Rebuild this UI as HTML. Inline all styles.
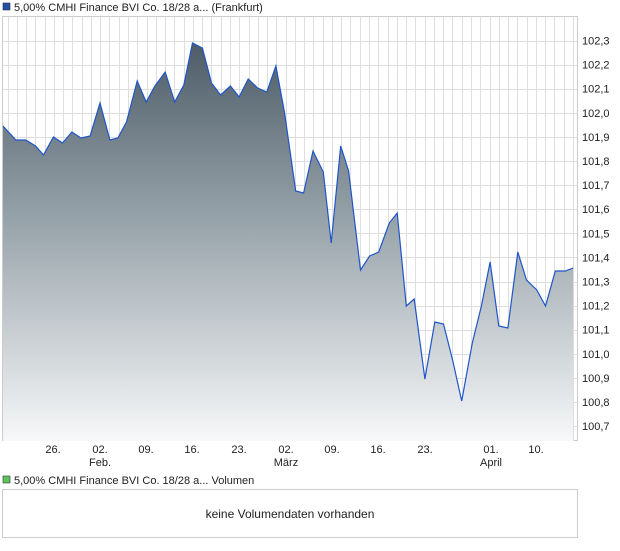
<!DOCTYPE html>
<html><head><meta charset="utf-8"><style>
body{margin:0;background:#fff;width:620px;height:546px;overflow:hidden;font-family:"Liberation Sans",sans-serif;}
svg text{font-family:"Liberation Sans",sans-serif;font-size:11px;fill:#222;}
</style></head><body>
<svg width="620" height="546" viewBox="0 0 620 546" xmlns="http://www.w3.org/2000/svg">
<defs>
<linearGradient id="g" gradientUnits="userSpaceOnUse" x1="0" y1="40" x2="0" y2="441">
<stop offset="0" stop-color="#4c5b67"/><stop offset="0.45" stop-color="#97a3aa"/><stop offset="1" stop-color="#f7f8f9"/>
</linearGradient>
</defs>
<rect x="3" y="3" width="7" height="7" fill="#1f4fa8" stroke="#333" stroke-width="0.6"/>
<text x="14" y="11">5,00% CMHI Finance BVI Co. 18/28 a... (Frankfurt)</text>
<rect x="2.5" y="16.5" width="575" height="424" fill="#fff" stroke="#ccc"/>
<g stroke="#dedede" stroke-width="1" id="grid"></g>
<polygon id="area" fill="url(#g)"/>
<polyline id="line" fill="none" stroke="#1f55c8" stroke-width="1.2"/>
<g id="ylab"></g>
<g id="xlab"></g>
<rect x="3" y="476" width="7" height="7" fill="#5ec35e" stroke="#333" stroke-width="0.6"/>
<text x="14" y="484">5,00% CMHI Finance BVI Co. 18/28 a... Volumen</text>
<rect x="2.5" y="489.5" width="575" height="48" fill="#fff" stroke="#ccc"/>
<text x="290" y="518" text-anchor="middle" style="font-size:12px">keine Volumendaten vorhanden</text>
</svg>
<script>
var ns="http://www.w3.org/2000/svg";
var raw=[[20,126],[40,140],[65,140],[90,146],[110,155],[135,137],[158,143],[182,132],[205,138],[228,136],[253,103],[278,140],[298,138],[320,122],[347,81],[370,102],[392,86],[418,72],[442,102],[465,85],[487,43],[512,48],[535,83],[558,95],[583,86],[605,97],[628,79],[652,88],[675,92],[698,66],[720,113],[748,191],[768,193],[792,151],[818,172],[838,243],[862,146],[882,171],[912,270],[935,256],[958,252],[985,223],[1005,213],[1028,306],[1048,299],[1075,379],[1100,322],[1122,324],[1145,360],[1168,401],[1195,343],[1218,306],[1240,262],[1262,326],[1285,328],[1310,252],[1332,280],[1358,290],[1380,306],[1405,271],[1430,271],[1450,268]];
var pts=raw.map(function(p){return [(p[0]/2.53).toFixed(1),p[1]];});
pts[0][0]=3;
var s=pts.map(function(p){return p[0]+","+p[1];}).join(" ");
document.getElementById("line").setAttribute("points",s);
document.getElementById("area").setAttribute("points",s+" "+pts[pts.length-1][0]+",441 3,441");
var g=document.getElementById("grid");
function ln(x1,y1,x2,y2){var l=document.createElementNS(ns,"line");l.setAttribute("x1",x1);l.setAttribute("y1",y1);l.setAttribute("x2",x2);l.setAttribute("y2",y2);g.appendChild(l);}
for(var x=7.5;x<577;x+=9.27)ln(Math.round(x)+0.5,17,Math.round(x)+0.5,441);
var yl=document.getElementById("ylab");
for(var i=0;i<=16;i++){var v=102.3-i*0.1;var y=40.5+i*24.1;ln(3,Math.round(y)+0.5,577,Math.round(y)+0.5);
var t=document.createElementNS(ns,"text");t.setAttribute("x",582);t.setAttribute("y",y+4);t.textContent=v.toFixed(1).replace(".",",");yl.appendChild(t);}
var xl=document.getElementById("xlab");
[[53,"26.",""],[100,"02.","Feb."],[146,"09.",""],[192,"16.",""],[239,"23.",""],[286,"02.","März"],[332,"09.",""],[378,"16.",""],[425,"23.",""],[491,"01.","April"],[536,"10.",""]].forEach(function(a){
var t=document.createElementNS(ns,"text");t.setAttribute("x",a[0]);t.setAttribute("y",453);t.setAttribute("text-anchor","middle");t.textContent=a[1];xl.appendChild(t);
if(a[2]){var u=document.createElementNS(ns,"text");u.setAttribute("x",a[0]);u.setAttribute("y",466);u.setAttribute("text-anchor","middle");u.textContent=a[2];xl.appendChild(u);}
});
</script>
</body></html>
